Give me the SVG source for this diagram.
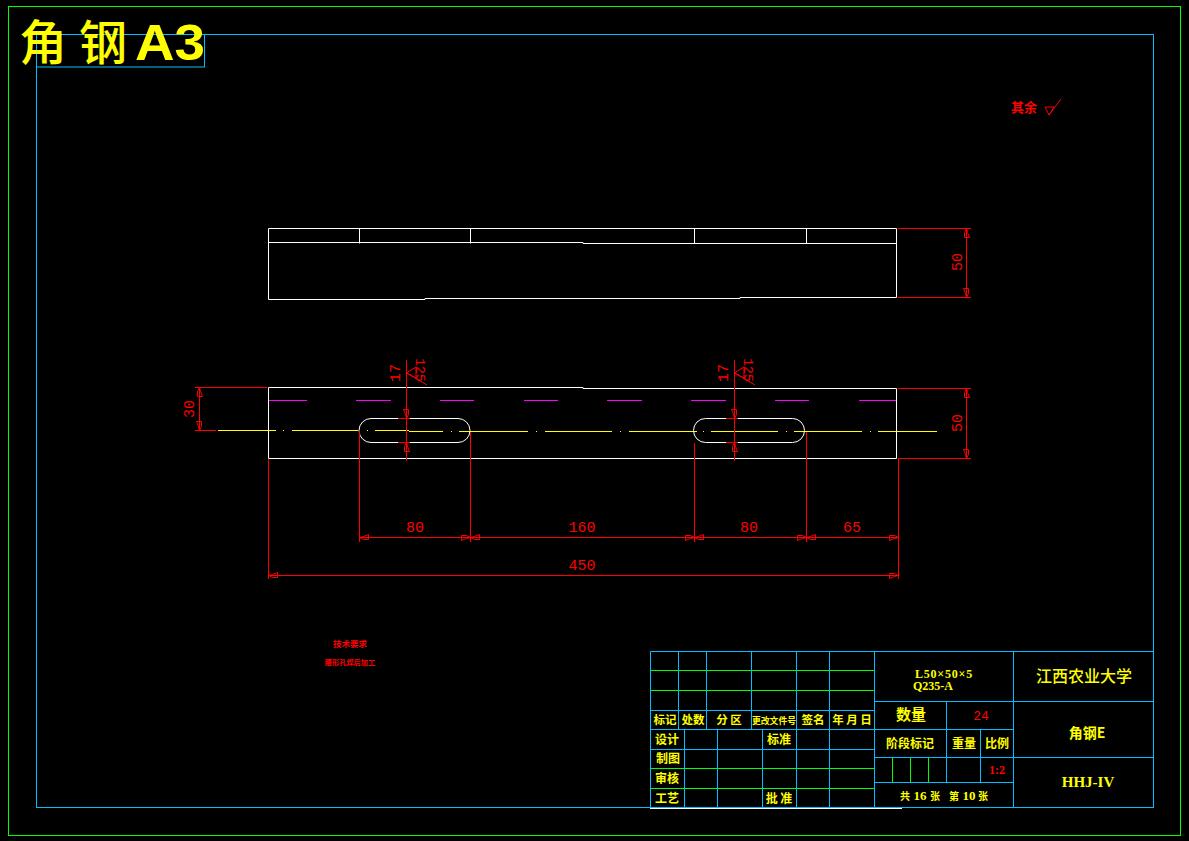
<svg xmlns="http://www.w3.org/2000/svg" xmlns:xlink="http://www.w3.org/1999/xlink" width="1189" height="841" viewBox="0 0 1189 841" style="background:#000">
<style>
line,path,rect,polyline{fill:none;stroke-width:1}
.c{stroke:#00bfff}.g{stroke:#00ff00}.w{stroke:#fff}.r{stroke:#ff0000}.m{stroke:#ff00ff}.y{stroke:#ffff00}
.bg{fill:#000;stroke:none}
text{font-family:"Noto Sans CJK SC","Liberation Sans",sans-serif;text-anchor:middle}
.t{fill:#ffff00;font-size:12px;font-weight:700}
.s{fill:#ffff00;font-family:"Liberation Serif","Noto Sans CJK SC",serif;font-weight:700}
.d{fill:#ff0000;font-family:"Liberation Mono","DejaVu Sans Mono",monospace;font-size:15px;stroke:none}
.n{fill:#ff0000;font-size:10px;font-weight:700}
</style>
<defs>
<path id="a" class="r" d="M0,0L4,-1L9,-3V2H4Z"/>
</defs>
<rect class="bg" width="1189" height="841"/>
<g id="frame">
<rect class="g" x="8.5" y="6.5" width="1172" height="829"/>
<rect class="c" x="36.5" y="34.5" width="1117" height="773"/>
<rect class="c" x="36.5" y="34.5" width="168" height="32.5"/>
</g>
<g id="drawing-title">
<text x="43" y="60" fill="#ffff00" font-size="48" style="font-weight:500">角</text>
<text x="103" y="60" fill="#ffff00" font-size="48" style="font-weight:500">钢</text>
<text x="170" y="60" fill="#ffff00" font-size="50" textLength="70" lengthAdjust="spacingAndGlyphs" style="font-family:'Liberation Sans',sans-serif;font-weight:700">A3</text>
</g>
<g id="top-view">
<path class="w" d="M268.500,228.500H896.500V297.500H740V298.500H425V299.500H268.500ZM268.500,242.500H583V243.500H896.500M359.500,228.500V243.500M470.500,228.500V243.500M694.500,228.500V243.500M806.500,228.500V243.500"/>
</g>
<g id="front-view">
<path class="m" d="M268,400.500H307M356,400.500H391M440,400.500H474M524,400.500H558M607,400.500H642M691,400.500H726M775,400.500H809M859,400.500H897"/>
<path class="y" d="M218,430.500H276M283,430.500H284M292,430.500H358M367,430.500H368M375,430.500H409M409,431.500H443M451,431.500H452M459,431.500H528M536,431.500H537M545,431.500H612M620,431.500H621M629,431.500H697M703,431.500H704M711,431.500H778M786,431.500H787M794,431.500H862M870,431.500H871M878,431.500H937"/>
<path class="w" d="M268.500,387.500H583V388.500H896.500V458.500H268.500Z"/>
<rect class="w" x="359" y="418.500" width="111" height="24" rx="12"/>
<rect class="w" x="693.500" y="418.500" width="111" height="24" rx="12"/>
</g>
<g id="connectors">
<path class="r" d="M898,228.500H971M898,297.500H971M966.500,228.500V297.500M898,388.500H971M898,458.500H971M966.500,388.500V458.500"/>
<path class="r" d="M195,387.500H267M195,430.500H216M199.500,387.500V430.500"/>
<path class="r" d="M268.500,459V579M359.500,431V542M470.500,432V542M694.500,443V542M806.500,432V542M898.500,459V579M359.500,537.500H898.500M268.500,575.500H898.500"/>
<path class="r" d="M406.500,360V461M398,418.500H410M398,442.500H410M734.500,360V461M726,418.500H738M726,442.500H738"/>
<path class="r" d="M406.500,373L416,367V378L406.500,373L427,385M734.500,373L744,367V378L734.500,373L755,385"/>
<path class="r" d="M1045,107L1049,115L1061,99M1045,107H1054L1049,115"/>
<use xlink:href="#a" transform="translate(966.500,228.500) rotate(90)"/>
<use xlink:href="#a" transform="translate(966.500,297.500) rotate(-90)"/>
<use xlink:href="#a" transform="translate(966.500,388.500) rotate(90)"/>
<use xlink:href="#a" transform="translate(966.500,458.500) rotate(-90)"/>
<use xlink:href="#a" transform="translate(199.500,387.500) rotate(90)"/>
<use xlink:href="#a" transform="translate(199.500,430.500) rotate(-90)"/>
<use xlink:href="#a" transform="translate(406.500,418.500) rotate(-90)"/>
<use xlink:href="#a" transform="translate(406.500,442.500) rotate(90)"/>
<use xlink:href="#a" transform="translate(734.500,418.500) rotate(-90)"/>
<use xlink:href="#a" transform="translate(734.500,442.500) rotate(90)"/>
<use xlink:href="#a" transform="translate(359.500,537.500)"/>
<use xlink:href="#a" transform="translate(470.500,537.500) rotate(180)"/>
<use xlink:href="#a" transform="translate(470.500,537.500)"/>
<use xlink:href="#a" transform="translate(694.500,537.500) rotate(180)"/>
<use xlink:href="#a" transform="translate(694.500,537.500)"/>
<use xlink:href="#a" transform="translate(806.500,537.500) rotate(180)"/>
<use xlink:href="#a" transform="translate(806.500,537.500)"/>
<use xlink:href="#a" transform="translate(898.500,537.500) rotate(180)"/>
<use xlink:href="#a" transform="translate(268.500,575.500)"/>
<use xlink:href="#a" transform="translate(898.500,575.500) rotate(180)"/>
</g>
<g id="dimensions">
<text class="d" x="415" y="532">80</text>
<text class="d" x="582" y="532">160</text>
<text class="d" x="749" y="532">80</text>
<text class="d" x="852" y="532">65</text>
<text class="d" x="582" y="570">450</text>
<text class="d" transform="translate(962,262) rotate(-90)">50</text>
<text class="d" transform="translate(962,423) rotate(-90)">50</text>
<text class="d" transform="translate(194,409) rotate(-90)">30</text>
<text class="d" transform="translate(400,373) rotate(-90)">17</text>
<text class="d" transform="translate(728,373) rotate(-90)">17</text>
<text class="d" transform="translate(416,370) rotate(90)" style="font-size:13px">125</text>
<text class="d" transform="translate(744,370) rotate(90)" style="font-size:13px">125</text>
</g>
<g id="notes">
<text class="n" x="1024" y="112" style="font-size:13px">其余</text>
<text class="n" x="350" y="647" style="font-size:8.500px">技术要求</text>
<text class="n" x="350" y="665" style="font-size:7.200px">腰形孔焊后加工</text>
</g>
<g id="title-block">
<path class="g" d="M650,670.500H874M650,690.500H874M650,768.500H874M650,788.500H874M892.500,757V782M910.500,757V782M928.500,757V782"/>
<path class="c" d="M650.500,651.500H1153M650.500,710.500H874M650.500,729.500H874M650.500,749.500H874M650.500,807.500H1013M650.500,651.500V807.500M678.500,651.500V729.500M706.500,651.500V729.500M751.500,651.500V729.500M684.500,729.500V807.500M717.500,729.500V807.500M762.500,729.500V807.500M796.500,651.500V807.500M829.500,651.500V807.500M874.500,651.500V807.500M1013.500,651.500V807.500M874,701.500H1153M874,729.500H1013M874,757.500H1153M874,782.500H1013M946.500,701.500V782.500M980.500,729.500V782.500"/>
<path class="w" d="M650,808.500H902"/>
<text class="t" x="665" y="724" style="font-size:11.500px">标记</text>
<text class="t" x="693" y="724" style="font-size:11.500px">处数</text>
<text class="t" x="729" y="724" style="font-size:11.500px">分 区</text>
<text class="t" x="774" y="724" style="font-size:8.800px">更改文件号</text>
<text class="t" x="813" y="724" style="font-size:11.500px">签名</text>
<text class="t" x="852" y="724" style="font-size:11.500px" xml:space="preserve">年 月 日</text>
<text class="t" x="667" y="744">设计</text>
<text class="t" x="779" y="744">标准</text>
<text class="t" x="668" y="763">制图</text>
<text class="t" x="667" y="783">审核</text>
<text class="t" x="667" y="803">工艺</text>
<text class="t" x="779" y="803">批 准</text>
<text class="s" x="944" y="678" style="font-size:12px;letter-spacing:.8px">L50×50×5</text>
<text class="s" x="933" y="690" style="font-size:12px">Q235-A</text>
<text class="t" x="1084" y="682" style="font-size:16px;font-weight:500">江西农业大学</text>
<text class="t" x="911" y="720" style="font-size:15px">数量</text>
<text x="981" y="720" fill="#ff0000" style="font-family:'Liberation Mono',monospace;font-size:13px">24</text>
<text class="t" x="910" y="748">阶段标记</text>
<text class="t" x="964" y="748">重量</text>
<text class="t" x="997" y="748">比例</text>
<text class="s" x="997" y="774" style="fill:#ff0000;font-size:12px">1:2</text>
<g id="sheet-count">
<text class="t" x="905" y="800" style="font-size:10px">共</text>
<text class="s" x="920" y="800" style="font-size:13px">16</text>
<text class="t" x="935" y="800" style="font-size:10px">张</text>
<text class="t" x="954" y="800" style="font-size:10px">第</text>
<text class="s" x="969" y="800" style="font-size:13px">10</text>
<text class="t" x="983" y="800" style="font-size:10px">张</text>
</g>
<text class="t" x="1087" y="738" style="font-size:14px">角钢E</text>
<text class="s" x="1088" y="787" style="font-size:15px">HHJ-IV</text>
</g>
</svg>
